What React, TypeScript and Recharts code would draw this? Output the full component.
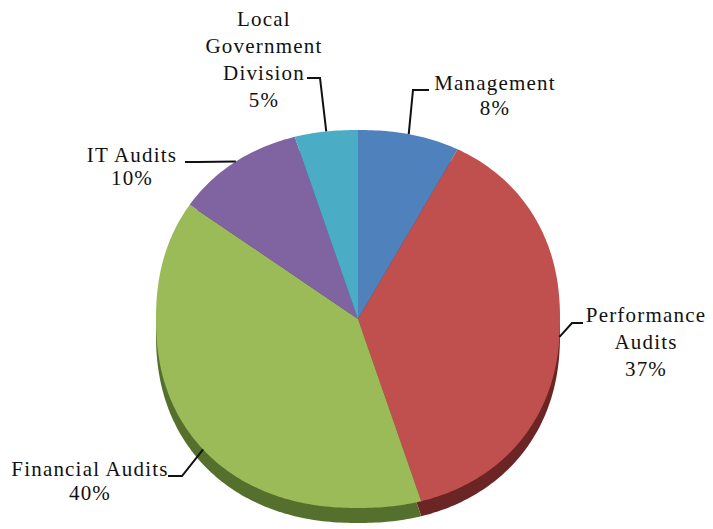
import React from 'react';
import { PieChart, Pie, Cell } from 'recharts';

const categories = [
  'Management',
  'Performance Audits',
  'Financial Audits',
  'IT Audits',
  'Local Government Division',
];
const shares = [8, 37, 40, 10, 5];
const labelLines = [
  ['Management'],
  ['Performance', 'Audits'],
  ['Financial Audits'],
  ['IT Audits'],
  ['Local', 'Government', 'Division'],
];

const TOP_COLORS = ['#4F81BD', '#C0504D', '#9BBB59', '#8064A2', '#4BACC6'];
const SIDE_COLORS = ['#2F5080', '#6A2524', '#55702C', '#4E3A66', '#2A6F80'];

// where each label sits, and the elbow of its leader line
const LABEL_LAYOUT = [
  { x: 495, y: 90, lh: 25, leader: [[413, 90], [429, 90]], shift: 0 },
  { x: 646, y: 322, lh: 27, leader: [[572, 323], [583, 323]], shift: 0 },
  { x: 90, y: 476, lh: 24, leader: [[182, 476], [168, 476]], shift: 6 },
  { x: 132, y: 162, lh: 23, leader: [[198, 162], [185, 162]], shift: 0 },
  { x: 264, y: 26, lh: 27, leader: [[320, 78], [307, 78]], shift: 0 },
];

const W = 713;
const H = 529;
const CX = 358;
const CY = 319;
const RX = 202;
const Y_RATIO = 189 / 202; // tilted pie
const DEPTH = 15;
const SQ = 2.2; // a bit fuller than an ellipse (perspective)

const data = categories.map((name, i) => ({ name, value: shares[i] }));

function edge(cx: number, cy: number, r: number, deg: number) {
  const a = (deg * Math.PI) / 180;
  const c = Math.cos(a);
  const s = Math.sin(a);
  const k = Math.pow(Math.pow(Math.abs(c), SQ) + Math.pow(Math.abs(s), SQ), -1 / SQ);
  return [cx + k * r * c, cy - k * r * Y_RATIO * s];
}

function sectorPath(cx: number, cy: number, r: number, start: number, end: number) {
  const steps = Math.max(2, Math.ceil(Math.abs(end - start)));
  let d = `M${cx},${cy}`;
  for (let i = 0; i <= steps; i++) {
    const [x, y] = edge(cx, cy, r, start + ((end - start) * i) / steps);
    d += `L${x.toFixed(2)},${y.toFixed(2)}`;
  }
  return d + 'Z';
}

const TopShape = (props: any) => (
  <path
    d={sectorPath(props.cx, props.cy, props.outerRadius, props.startAngle, props.endAngle)}
    fill={props.fill}
    stroke="none"
  />
);

const SideShape = (props: any) => (
  <path
    d={sectorPath(props.cx, props.cy + DEPTH, props.outerRadius, props.startAngle, props.endAngle)}
    fill={props.fill}
    stroke="none"
  />
);

const renderLabel = (props: any) => {
  const { cx, cy, outerRadius, midAngle, index, percent } = props;
  const lay = LABEL_LAYOUT[index];
  const [ex, ey] = edge(cx, cy, outerRadius, midAngle + lay.shift);
  const pts = [[ex, ey], ...lay.leader].map((p) => p.join(',')).join(' ');
  const lines = [...labelLines[index], `${Math.round(percent * 100)}%`];
  return (
    <g key={`lbl-${index}`}>
      <polyline points={pts} fill="none" stroke="#111" strokeWidth={2} />
      {lines.map((t, i) => (
        <text
          key={i}
          x={lay.x}
          y={lay.y + i * lay.lh}
          textAnchor="middle"
          fontFamily="Liberation Serif"
          fontSize={21}
          letterSpacing={1.2}
          fill="#111"
          stroke="none"
        >
          {t}
        </text>
      ))}
    </g>
  );
};

export default function App() {
  return (
    <div style={{ position: 'absolute', left: 0, top: 0, background: '#fff' }}>
      <PieChart width={W} height={H} margin={{ top: 0, right: 0, bottom: 0, left: 0 }}>
        <Pie
          data={data}
          dataKey="value"
          nameKey="name"
          cx={CX}
          cy={CY}
          outerRadius={RX}
          startAngle={90}
          endAngle={-270}
          shape={SideShape}
          inactiveShape={SideShape}
          activeShape={SideShape}
          label={false}
          labelLine={false}
          isAnimationActive={false}
        >
          {data.map((d, i) => (
            <Cell key={d.name} fill={SIDE_COLORS[i]} />
          ))}
        </Pie>
        <Pie
          data={data}
          dataKey="value"
          nameKey="name"
          cx={CX}
          cy={CY}
          outerRadius={RX}
          startAngle={90}
          endAngle={-270}
          shape={TopShape}
          inactiveShape={TopShape}
          activeShape={TopShape}
          label={renderLabel}
          labelLine={false}
          isAnimationActive={false}
        >
          {data.map((d, i) => (
            <Cell key={d.name} fill={TOP_COLORS[i]} />
          ))}
        </Pie>
      </PieChart>
    </div>
  );
}
